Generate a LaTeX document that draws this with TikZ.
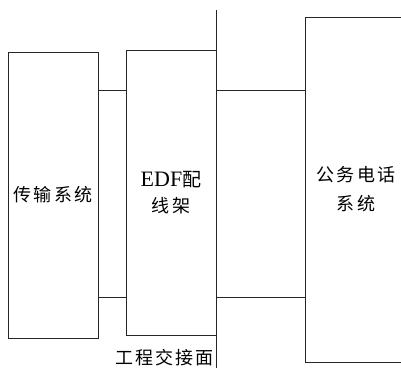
\documentclass[tikz,border=0pt]{standalone}
\usepackage{fontspec}
\setmainfont{Liberation Serif}
\newfontfamily\cjk[LetterSpace=12]{Noto Sans CJK SC}
\begin{document}
\begin{tikzpicture}[x=1pt,y=-1pt,
  box/.style={draw=black!85,line width=1pt,rectangle,inner sep=0pt,align=center},
  conn/.style={draw=black!85,line width=1pt},
  cn/.style={font=\cjk\fontsize{18}{29}\selectfont}]
\useasboundingbox (0,0) rectangle (401,367);
\clip (0,0) rectangle (401,367);
\node[box,cn,minimum width=90,minimum height=286] (b1) at (53,195) {传输系统};
\node[box,minimum width=90,minimum height=285,font=\fontsize{22}{27}\selectfont] (b2) at (171,192.5)
  {EDF{\cjk\fontsize{19}{27}\selectfont 配}\\[-1pt]{\cjk\fontsize{18}{27}\selectfont 线架}};
\node[box,cn,minimum width=102,minimum height=345] (b3) at (356,189.5) {公务电话\\系统};
\coordinate (itop) at (216,10);
\coordinate (ibot) at (216,370);
\draw[conn] (itop) -- (ibot);
\draw[conn] (b1.east |- 0,90.7) -- (b2.west |- 0,90.7);
\draw[conn] (b1.east |- 0,297) -- (b2.west |- 0,297);
\draw[conn] (b2.east |- 0,90.7) -- (b3.west |- 0,90.7);
\draw[conn] (b2.east |- 0,297) -- (b3.west |- 0,297);
\node[cn,anchor=east,inner sep=0pt] (lbl) at (214,358) {工程交接面};
\end{tikzpicture}
\end{document}
